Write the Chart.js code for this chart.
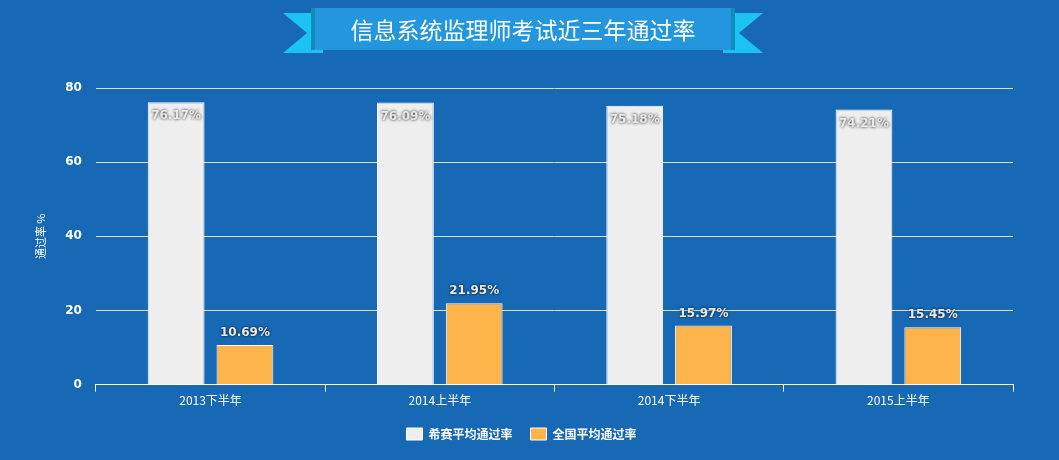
<!DOCTYPE html>
<html><head><meta charset="utf-8">
<script src="https://cdn.jsdelivr.net/npm/chart.js@4"></script>
<style>
html,body{margin:0;padding:0;background:#1769b6;width:1059px;height:460px;overflow:hidden;font-family:"Noto Sans CJK SC","Noto Sans",sans-serif}
#wrap{position:absolute;left:0;top:0;width:1059px;height:460px}
#banner{position:absolute;left:283px;top:7px;width:480px;height:48px}
.rib{position:absolute;top:6px;width:40px;height:40px;background:#1bc3f2}
#rl{left:0;clip-path:polygon(0 0,100% 0,100% 100%,0 100%,60% 50%)}
#rr{right:0;clip-path:polygon(0 0,100% 0,40% 50%,100% 100%,0 100%)}
#mid{position:absolute;left:32px;top:1px;width:416px;height:42px;background:#2496de;color:#fff;font-size:23px;line-height:42px;text-align:center;box-shadow:-4px 0 0 #0f8cb8,4px 0 0 #0f8cb8}
</style></head><body>
<div id="wrap"><canvas id="c" width="1059" height="460"></canvas></div>
<div id="banner"><div class="rib" id="rl"></div><div class="rib" id="rr"></div><div id="mid">信息系统监理师考试近三年通过率</div></div>
<script>
const categories=["2013下半年","2014上半年","2014下半年","2015上半年"];
const seriesNames=["希赛平均通过率","全国平均通过率"];
const xisaiRates=[76.17,76.09,75.18,74.21];
const nationalRates=[10.69,21.95,15.97,15.45];
const yTicks=[0,20,40,60,80];

const labelPlugin={id:'lbl',afterDatasetsDraw(chart){
 const ctx=chart.ctx;ctx.save();
 ctx.font='bold 12px "DejaVu Sans",sans-serif';ctx.textAlign='center';
 chart.data.datasets.forEach((ds,i)=>{
  chart.getDatasetMeta(i).data.forEach((bar,j)=>{
   const t=ds.data[j].toFixed(2)+'%';
   const y=i===0?bar.y+14:bar.y-12;
   ctx.shadowColor='rgba(0,0,0,0.9)';ctx.shadowBlur=3;
   ctx.fillStyle='#e8e8e8';ctx.textBaseline='middle';ctx.fillText(t,bar.x,y);
  });
 });
 ctx.restore();
}};
const bgPlugin={id:'bg',beforeDraw(c){c.ctx.save();c.ctx.fillStyle='#1769b6';c.ctx.fillRect(0,0,c.width,c.height);c.ctx.restore();}};

new Chart(document.getElementById('c'),{
 type:'bar',
 data:{labels:categories,datasets:[
  {label:seriesNames[0],data:xisaiRates,backgroundColor:'#eeeeee',borderColor:'#ffffff',borderWidth:1,categoryPercentage:0.6,barPercentage:0.826},
  {label:seriesNames[1],data:nationalRates,backgroundColor:'#ffb54c',borderColor:'#ffffff',borderWidth:1,categoryPercentage:0.6,barPercentage:0.826}
 ]},
 options:{responsive:false,animation:false,
  layout:{padding:{top:88,right:46,left:30,bottom:10}},
  plugins:{legend:{position:'bottom',labels:{color:'#fff',boxWidth:16,boxHeight:12,padding:18,font:{size:12,weight:'bold',family:'"Noto Sans CJK SC"'}}},tooltip:{enabled:false}},
  scales:{
   x:{grid:{display:true,drawOnChartArea:false,color:'#fff',tickLength:7,offset:true},border:{color:'#fff'},ticks:{color:'#fff',font:{size:12,family:'"Noto Sans CJK SC"'},padding:2}},
   y:{min:0,max:80,afterBuildTicks(a){a.ticks=yTicks.map(v=>({value:v}));},grid:{color:'#dddddd',drawTicks:false},border:{display:false},
      ticks:{color:'#fff',padding:14,font:{size:12,weight:'bold',family:'"DejaVu Sans"'}},
      title:{display:true,text:'通过率 %',color:'#fff',font:{size:11,family:'"Noto Sans CJK SC"'}}}
  }},
 plugins:[bgPlugin,labelPlugin]
});
</script></body></html>
